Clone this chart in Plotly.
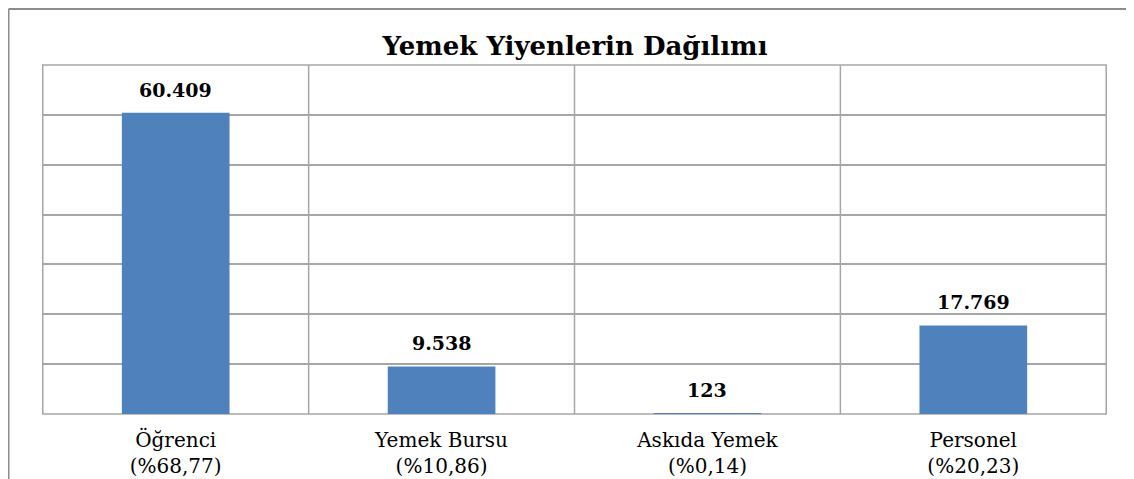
import plotly.graph_objects as go

categories = ["Öğrenci<br>(%68,77)", "Yemek Bursu<br>(%10,86)", "Askıda Yemek<br>(%0,14)", "Personel<br>(%20,23)"]
values = [60409, 9538, 123, 17769]
value_labels = ["60.409", "9.538", "123", "17.769"]

OFF = 8  # default page body margin
W, H = 1134 - OFF, 479 - OFF
L, R, T, B = 42 - OFF, 1134 - 1107, 65 - OFF, 479 - 414
PW, PH = W - L - R, H - T - B

SERIF = "DejaVu Serif"

fig = go.Figure()
fig.add_trace(go.Bar(
    x=categories, y=values,
    marker=dict(color="#4F81BD", line=dict(width=0)),
    width=0.405,
    hoverinfo="skip",
))

for c, v, t in zip(categories, values, value_labels):
    fig.add_annotation(x=c, y=v, text=f"<b>{t}</b>", showarrow=False,
                       yanchor="bottom", yshift=10,
                       font=dict(family=SERIF, size=19, color="#000000"))

# category separators (vertical grid)
for i in range(len(categories) + 1):
    fig.add_shape(type="line", xref="x", yref="paper", x0=i - 0.5, x1=i - 0.5, y0=0, y1=1,
                  line=dict(color="#a6a6a6", width=1.5), layer="below")

# outer chart border (left and top)
bx = (0.5 - L) / PW
by = (H - B - 1) / PH
fig.add_shape(type="line", xref="paper", yref="paper",
              x0=bx, x1=bx, y0=(-B - 5) / PH, y1=by,
              line=dict(color="#8c8c8c", width=2))
fig.add_shape(type="line", xref="paper", yref="paper",
              x0=bx, x1=(W + 5 - L) / PW, y0=by, y1=by,
              line=dict(color="#8c8c8c", width=2))

fig.update_layout(
    width=W, height=H,
    margin=dict(l=L, r=R, t=T, b=B, autoexpand=False),
    paper_bgcolor="white", plot_bgcolor="white",
    showlegend=False,
    title=dict(text="<b>Yemek Yiyenlerin Dağılımı</b>", x=((362 + 788) / 2 - OFF) / W, xanchor="center",
               y=1 - (46 - OFF) / H, yanchor="middle",
               font=dict(family=SERIF, size=26, color="#000000")),
    xaxis=dict(showgrid=False, showline=False, ticks="", zeroline=False,
               automargin=False, ticklabelstandoff=12,
               tickfont=dict(family=SERIF, size=20, color="#000000")),
    yaxis=dict(range=[0, 70000], dtick=10000, showgrid=True, gridcolor="#a6a6a6", gridwidth=1.5,
               automargin=False,
               showticklabels=False, zeroline=False, showline=False, ticks=""),
)
fig.add_shape(type="line", xref="paper", yref="paper", x0=0, x1=1, y0=1, y1=1,
              line=dict(color="#a6a6a6", width=1.5))
fig.add_shape(type="line", xref="paper", yref="paper", x0=0, x1=1, y0=0, y1=0,
              line=dict(color="#a6a6a6", width=1.5), layer="below")

fig.write_html("out.html")
